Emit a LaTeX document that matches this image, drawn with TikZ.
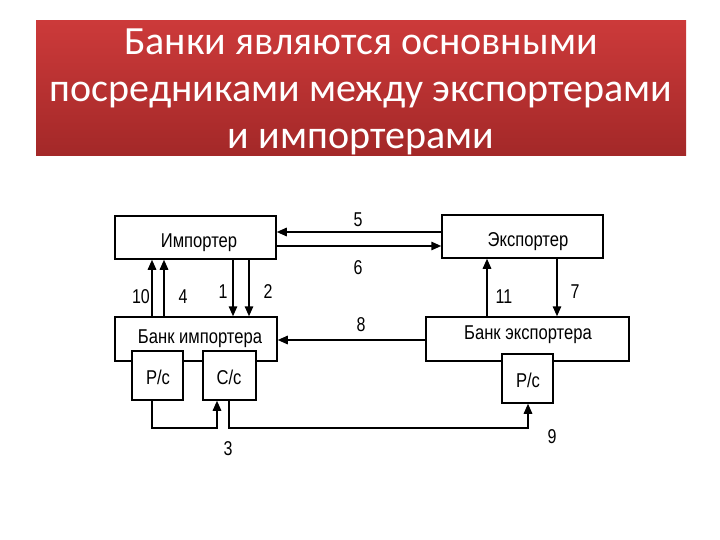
\documentclass[tikz,border=0pt]{standalone}
\usepackage{fontspec}
\setmainfont{Carlito}
\newfontfamily\arialf[FakeStretch=0.83]{Liberation Sans}
\newfontfamily\digitf[FakeStretch=0.8]{Liberation Sans}
\usetikzlibrary{arrows.meta,calc}
\definecolor{ttop}{RGB}{204,58,58}
\definecolor{tbot}{RGB}{163,40,40}
\tikzset{
  box/.style={draw,line width=1.5pt,fill=white,inner sep=0pt},
  lbl/.style={font=\arialf\fontsize{20}{22}\selectfont,inner sep=0pt},
  num/.style={font=\digitf\fontsize{20}{22}\selectfont,inner sep=0pt},
  ttl/.style={font=\fontsize{40}{47}\selectfont,text=white,anchor=base,inner sep=0pt},
  arr/.style={line width=1.5pt,-{Triangle[length=10pt,width=8.5pt]}},
  ln/.style={line width=1.5pt}
}
\begin{document}
\begin{tikzpicture}[x=1pt,y=-1pt]
\useasboundingbox (0,0) rectangle (720,540);
\fill[white] (0,0) rectangle (720,540);
% title
\node[inner sep=0pt,minimum width=650pt,minimum height=135pt,top color=ttop,bottom color=tbot,draw=none] (title) at (361,88.5) {};
\node[ttl] (t1) at (361,55) {Банки являются основными};
\node[ttl] (t2) at (361,102) {посредниками между экспортерами};
\node[ttl] (t3) at (361,149) {и импортерами};
% boxes
\node[box,minimum width=161pt,minimum height=43pt] (imp) at (195.5,237.5) {};
\node[lbl] (impt) at (199,243) {Импортер};
\node[box,minimum width=161pt,minimum height=43pt] (exp) at (522.5,236.5) {};
\node[lbl] (expt) at (528,242) {Экспортер};
\node[box,minimum width=162pt,minimum height=44pt] (bi) at (196,339) {};
\node[lbl] (bit) at (200,339) {Банк импортера};
\node[box,minimum width=203pt,minimum height=44pt] (be) at (527.5,339) {};
\node[lbl] (bet) at (528,335) {Банк экспортера};
\node[box,minimum width=51pt,minimum height=49pt] (pc1) at (157.5,375.5) {};
\node[lbl] (pc1t) at (158,377) {Р/с};
\node[box,minimum width=53pt,minimum height=49pt] (cc) at (229.5,375.5) {};
\node[lbl] (cct) at (229,377) {С/с};
\node[box,minimum width=51pt,minimum height=49pt] (pc2) at (527.5,378.5) {};
\node[lbl] (pc2t) at (528,380) {Р/с};
% helper coordinates
\coordinate (y232) at (0,232);
\coordinate (y246) at (0,246);
\coordinate (y340) at (0,340);
\coordinate (x152) at (152,0);
\coordinate (x164) at (164,0);
\coordinate (x233) at (233,0);
\coordinate (x249) at (249,0);
\coordinate (x487) at (487,0);
\coordinate (x557) at (557,0);
\coordinate (x217) at (217,0);
\coordinate (x229) at (229,0);
\coordinate (x528) at (528,0);
% connectors
\draw[arr] (exp.west |- y232) -- (imp.east |- y232);
\draw[arr] (imp.east |- y246) -- (exp.west |- y246);
\draw[arr] (bi.north -| x152) -- (imp.south -| x152);
\draw[arr] (bi.north -| x164) -- (imp.south -| x164);
\draw[arr] (imp.south -| x233) -- (bi.north -| x233);
\draw[arr] (imp.south -| x249) -- (bi.north -| x249);
\draw[arr] (be.north -| x487) -- (exp.south -| x487);
\draw[arr] (exp.south -| x557) -- (be.north -| x557);
\draw[arr] (be.west |- y340) -- (bi.east |- y340);
\draw[arr] (pc1.south -| x152) -- ++(0,27) -| (cc.south -| x217);
\draw[arr] (cc.south -| x229) -- ++(0,27) -| (pc2.south -| x528);
% numbers
\node[num] (n5) at (358,220) {5};
\node[num] (n6) at (358,268) {6};
\node[num] (n10) at (141,297) {10};
\node[num] (n4) at (183,297) {4};
\node[num] (n1) at (223,292) {1};
\node[num] (n2) at (268,292) {2};
\node[num] (n8) at (361,325) {8};
\node[num] (n11) at (504,297) {11};
\node[num] (n7) at (575,292) {7};
\node[num] (n3) at (228,449) {3};
\node[num] (n9) at (552,437) {9};
\end{tikzpicture}
\end{document}
